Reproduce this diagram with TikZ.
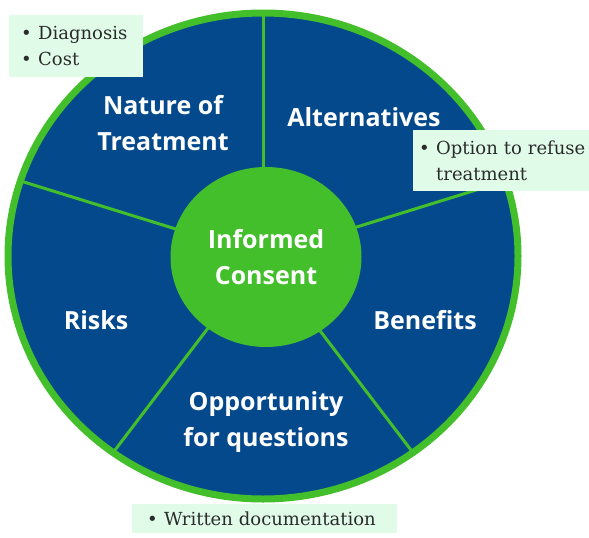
\documentclass[tikz,border=0pt]{standalone}
\usepackage{fontspec}
\setmainfont{DejaVu Serif}
\newfontfamily\labelfont{Open Sans}
\usepackage{xcolor}
\definecolor{cMain}{HTML}{03498C}
\definecolor{cGreen}{HTML}{44BF2C}
\definecolor{cMint}{HTML}{E0FCE9}
\definecolor{cInk}{HTML}{2B2B2B}
\usepackage{tikz}
\usetikzlibrary{shapes.geometric}
\tikzset{
  node-wheel/.style={ellipse,draw=cGreen,line width=7pt,fill=cMain,
    inner sep=0pt,minimum width=510pt,minimum height=486pt},
  node-hub/.style={ellipse,fill=cGreen,inner sep=0pt,
    minimum width=191pt,minimum height=180pt,text=white,align=center,
    font=\labelfont\bfseries\fontsize{25}{36}\selectfont},
  node-label/.style={text=white,align=center,
    font=\labelfont\bfseries\fontsize{25}{36}\selectfont},
  node-note/.style={fill=cMint,anchor=north west,align=left,text=cInk,
    inner ysep=0pt,font=\fontsize{18}{26}\selectfont},
  divider/.style={draw=cGreen,line width=3pt},
}
\newcommand{\bul}{\makebox[17pt][l]{\textbullet}}

\begin{document}
\begin{tikzpicture}[x=1pt,y=-1pt]
  \useasboundingbox (0,0) rectangle (589,538);
  % wheel and spokes
  \node[node-wheel] (wheel) at (263,256) {};
  \foreach \a in {-90,-18,54,126,198}
    \draw[divider] (wheel.center) -- ++(\a:253 and 241);
  \node[node-hub] (hub) at (266,257) {Informed\\Consent};
  % segment labels
  \node[node-label] (nat) at (163,123) {Nature of\\Treatment};
  \node[node-label] (alt) at (364,117) {Alternatives};
  \node[node-label] (risk) at (96,320) {Risks};
  \node[node-label] (ben) at (425,320) {Benefits};
  \node[node-label] (opp) at (266,422) {Opportunity\\for questions};
  % notes
  \node[node-note,inner xsep=12pt,text width=110pt,minimum height=62pt]
    (n-nat) at (9,15) {\mbox{\bul Diagnosis}\\\mbox{\bul Cost}};
  \node[node-note,inner xsep=6pt,text width=164pt,minimum height=61pt]
    (n-alt) at (413,130) {\mbox{\bul Option to refuse}\\\mbox{\hspace*{17pt}treatment}};
  \node[node-note,inner xsep=15pt,text width=235pt,minimum height=29pt]
    (n-opp) at (132,504) {\mbox{\bul Written documentation}};
\end{tikzpicture}
\end{document}
